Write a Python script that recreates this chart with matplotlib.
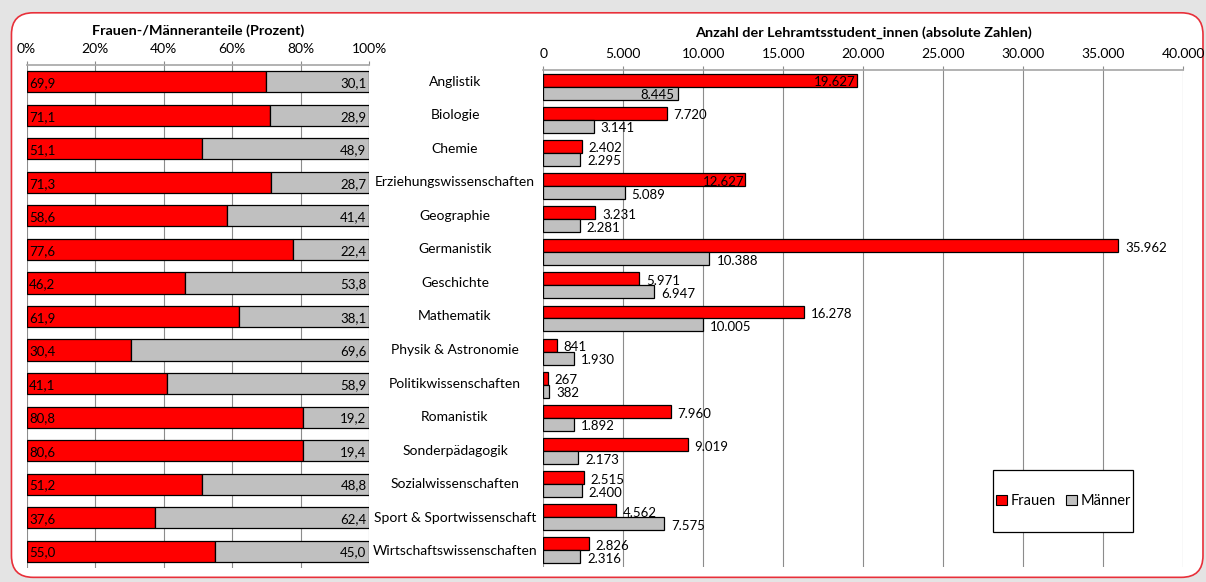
import matplotlib
matplotlib.use("Agg")
import matplotlib.pyplot as plt
from matplotlib.patches import FancyBboxPatch, Patch, Rectangle
from matplotlib.transforms import blended_transform_factory

plt.rcParams['font.family'] = ['Lato', 'DejaVu Sans']

# data
faecher = ["Anglistik", "Biologie", "Chemie", "Erziehungswissenschaften", "Geographie",
           "Germanistik", "Geschichte", "Mathematik", "Physik & Astronomie",
           "Politikwissenschaften", "Romanistik", "Sonderpädagogik",
           "Sozialwissenschaften", "Sport & Sportwissenschaft", "Wirtschaftswissenschaften"]
frauen_pct = [69.9, 71.1, 51.1, 71.3, 58.6, 77.6, 46.2, 61.9, 30.4, 41.1, 80.8, 80.6, 51.2, 37.6, 55.0]
maenner_pct = [30.1, 28.9, 48.9, 28.7, 41.4, 22.4, 53.8, 38.1, 69.6, 58.9, 19.2, 19.4, 48.8, 62.4, 45.0]
frauen_abs = [19627, 7720, 2402, 12627, 3231, 35962, 5971, 16278, 841, 267, 7960, 9019, 2515, 4562, 2826]
maenner_abs = [8445, 3141, 2295, 5089, 2281, 10388, 6947, 10005, 1930, 382, 1892, 2173, 2400, 7575, 2316]
pct_ticks = [0, 20, 40, 60, 80, 100]
abs_ticks = [0, 5000, 10000, 15000, 20000, 25000, 30000, 35000, 40000]
# labels that sit inside the bar end
inside_frauen = ["Anglistik", "Erziehungswissenschaften"]
inside_maenner = ["Anglistik"]

ROT = "#ff0000"
GRAU = "#c0c0c0"
GRID = "#8c8c8c"


def de_int(v):
    return f"{v:,}".replace(",", ".")


def de_dec(v):
    return f"{v:.1f}".replace(".", ",")


fig = plt.figure(figsize=(12.06, 5.82), dpi=100)
fig.patch.set_facecolor("#e4e4e4")
box = FancyBboxPatch((0.0095, 0.008), 0.988, 0.97, boxstyle="round,pad=0,rounding_size=0.018",
                     transform=fig.transFigure, facecolor="white", edgecolor="#e8303a",
                     linewidth=1.2, mutation_aspect=2.07, zorder=-10)
fig.patches.append(box)

ax1 = fig.add_axes([0.022, 0.0241, 0.2842, 0.8642])
ax2 = fig.add_axes([0.4505, 0.0258, 0.5305, 0.8539])

rows = list(range(len(faecher)))

# left: shares
ax1.barh(rows, frauen_pct, height=0.63, color=ROT, edgecolor="black", linewidth=0.9, zorder=3)
ax1.barh(rows, maenner_pct, left=frauen_pct, height=0.63, color=GRAU, edgecolor="black",
         linewidth=0.9, zorder=3)
for i in rows:
    ax1.annotate(de_dec(frauen_pct[i]), (0, i), xytext=(2, -1), textcoords="offset points",
                 ha="left", va="center", fontsize=9.5, zorder=4)
    ax1.annotate(de_dec(maenner_pct[i]), (100, i), xytext=(-2, -1), textcoords="offset points",
                 ha="right", va="center", fontsize=9.5, zorder=4)

ax1.set_xlim(0, 100)
ax1.set_ylim(len(faecher) - 0.5, -0.5)
ax1.set_xticks(pct_ticks)
ax1.set_xticklabels([f"{t}%" for t in pct_ticks])
ax1.set_yticks([])
ax1.set_title("Frauen-/Männeranteile (Prozent)", fontsize=10.4, fontweight="bold", pad=22)

# category names between the two panels
trans = blended_transform_factory(fig.transFigure, ax1.transData)
for i, name in enumerate(faecher):
    ax1.text(455 / 1206, i, name, transform=trans, ha="center", va="center", fontsize=10,
             clip_on=False)

# right: absolute numbers
off = 0.195
y_f = [r - off for r in rows]
y_m = [r + off for r in rows]
ax2.barh(y_f, frauen_abs, height=0.39, color=ROT, edgecolor="black", linewidth=0.9, zorder=3)
ax2.barh(y_m, maenner_abs, height=0.39, color=GRAU, edgecolor="black", linewidth=0.9, zorder=3)
for i, name in enumerate(faecher):
    if name in inside_frauen:
        ax2.annotate(de_int(frauen_abs[i]), (frauen_abs[i], y_f[i]), xytext=(-1, -1.5),
                     textcoords="offset points", ha="right", va="center", fontsize=9.5, zorder=4)
    else:
        ax2.annotate(de_int(frauen_abs[i]), (frauen_abs[i], y_f[i]), xytext=(5, -1.5),
                     textcoords="offset points", ha="left", va="center", fontsize=9.5, zorder=4)
    if name in inside_maenner:
        ax2.annotate(de_int(maenner_abs[i]), (maenner_abs[i], y_m[i]), xytext=(-3, -1.5),
                     textcoords="offset points", ha="right", va="center", fontsize=9.5, zorder=4)
    else:
        ax2.annotate(de_int(maenner_abs[i]), (maenner_abs[i], y_m[i]), xytext=(5, -1.5),
                     textcoords="offset points", ha="left", va="center", fontsize=9.5, zorder=4)

ax2.set_xlim(0, 40000)
ax2.set_ylim(len(faecher) - 0.5, -0.5)
ax2.set_xticks(abs_ticks)
ax2.set_xticklabels([de_int(t) for t in abs_ticks])
ax2.set_yticks([])
ax2.set_title("Anzahl der Lehramtsstudent_innen (absolute Zahlen)", fontsize=10.4,
              fontweight="bold", pad=24)

for ax in (ax1, ax2):
    ax.set_facecolor("none")
    ax.xaxis.tick_top()
    ax.tick_params(axis="x", direction="out", length=3, width=0.8, color=GRID, labelsize=10,
                   pad=4)
    ax.grid(axis="x", color=GRID, linewidth=0.8, zorder=0)
    for side in ("left", "right", "bottom"):
        ax.spines[side].set_visible(False)
    ax.spines["top"].set_color("#a6a6a6")
    ax.spines["top"].set_linewidth(1.2)

# legend: own frame so it can be wider than tall like Excel's
ax2.add_patch(Rectangle((0.703, 0.070), 0.219, 0.125, transform=ax2.transAxes,
                        facecolor="white", edgecolor="black", linewidth=0.9, zorder=5))
handles = [Patch(facecolor=ROT, edgecolor="black", linewidth=0.8, label="Frauen"),
           Patch(facecolor=GRAU, edgecolor="black", linewidth=0.8, label="Männer")]
leg = ax2.legend(handles=handles, ncol=2, loc="center", bbox_to_anchor=(0.8125, 0.1325),
                 fontsize=10.5, frameon=False, handlelength=0.75,
                 handleheight=0.75, handletextpad=0.25, columnspacing=0.7,
                 borderpad=0, borderaxespad=0)
leg.set_zorder(6)

fig.savefig("out.png", dpi=100, facecolor=fig.get_facecolor())
